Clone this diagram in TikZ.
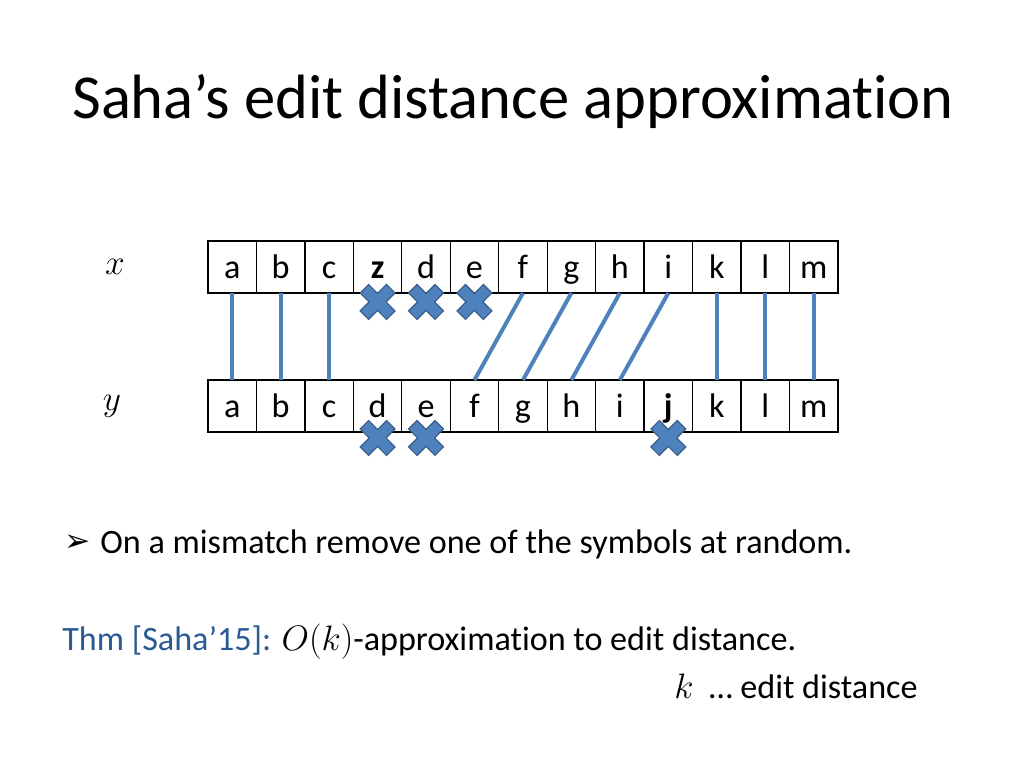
\documentclass[tikz,border=0pt]{standalone}
\usepackage{fontspec}
\setmainfont{Carlito}[Ligatures=NoCommon]
\newfontfamily\symfont{DejaVu Sans}
\usetikzlibrary{positioning}

\definecolor{linkblue}{HTML}{4F81BD}
\definecolor{crossrim}{HTML}{385D8A}
\definecolor{thmblue}{HTML}{2A5A94}

\tikzset{
  cell/.style={draw, line width=0.9pt, minimum width=34.07pt, minimum height=36.56pt,
               inner sep=0pt, outer sep=0pt, text height=16pt, text depth=0.4pt,
               font=\fontsize{24}{28}\selectfont},
  link/.style={draw=linkblue, line width=2.8pt},
  delcross/.pic={
    \filldraw[fill=linkblue, draw=crossrim, line width=0.8pt, rotate=45]
      (6,18.7) -- (6,6) -- (18.7,6) -- (18.7,-6) -- (6,-6) -- (6,-18.7)
      -- (-6,-18.7) -- (-6,-6) -- (-18.7,-6) -- (-18.7,6) -- (-6,6) -- (-6,18.7) -- cycle;
  }
}

\begin{document}
\begin{tikzpicture}[x=0.703125pt, y=-0.703125pt, node distance=34.07pt, on grid]
  \useasboundingbox (0,0) rectangle (1024,768);

  % title
  \node[anchor=base west, inner sep=0pt, font=\fontsize{44}{52}\selectfont] (title) at (72,119)
    {Saha’s edit distance approximation};

  % row labels
  \node[font=\fontsize{24}{28}\selectfont] (xlab) at (115,267) {$x$};
  \node[font=\fontsize{24}{28}\selectfont] (ylab) at (112,406) {$y$};

  % string x
  \node[cell] (x1) at (232.2,267) {a};
  \foreach \ch [count=\i from 2] in {b,c,\textbf{z},d,e,f,g,h,i,k,l,m}{
    \pgfmathtruncatemacro\prev{\i-1}
    \node[cell, right=of x\prev] (x\i) {\ch};
  }

  % string y
  \node[cell] (y1) at (232.2,406) {a};
  \foreach \ch [count=\i from 2] in {b,c,d,e,f,g,h,i,\textbf{j},k,l,m}{
    \pgfmathtruncatemacro\prev{\i-1}
    \node[cell, right=of y\prev] (y\i) {\ch};
  }

  % matches
  \foreach \i in {1,2,3,11,12,13}
    \draw[link] (x\i.south) -- (y\i.north);
  \foreach \i/\j in {7/6,8/7,9/8,10/9}
    \draw[link] (x\i.south) -- (y\j.north);

  % removed symbols
  \foreach \i in {4,5,6}
    \pic at ([yshift=-6.3pt]x\i.south) {delcross};
  \foreach \i in {4,5,10}
    \pic at ([yshift=-4.2pt]y\i.south) {delcross};

  % text
  \node[anchor=base west, inner sep=0pt, font=\fontsize{24}{29}\selectfont] (rule) at (100,553)
    {On a mismatch remove one of the symbols at random.};
  \node[anchor=base east, inner sep=0pt, font=\fontsize{22}{26}\symfont] (bullet) at (91,551) {➢};
  \node[anchor=base west, inner sep=0pt, font=\fontsize{24}{29}\selectfont] (thm) at (62,650)
    {\textcolor{thmblue}{Thm [Saha’15]:} $O(k)$-approximation to edit distance.};
  \node[anchor=base east, inner sep=0pt, font=\fontsize{24}{29}\selectfont] (note) at (918,698)
    {$k$~~… edit distance};
\end{tikzpicture}
\end{document}
